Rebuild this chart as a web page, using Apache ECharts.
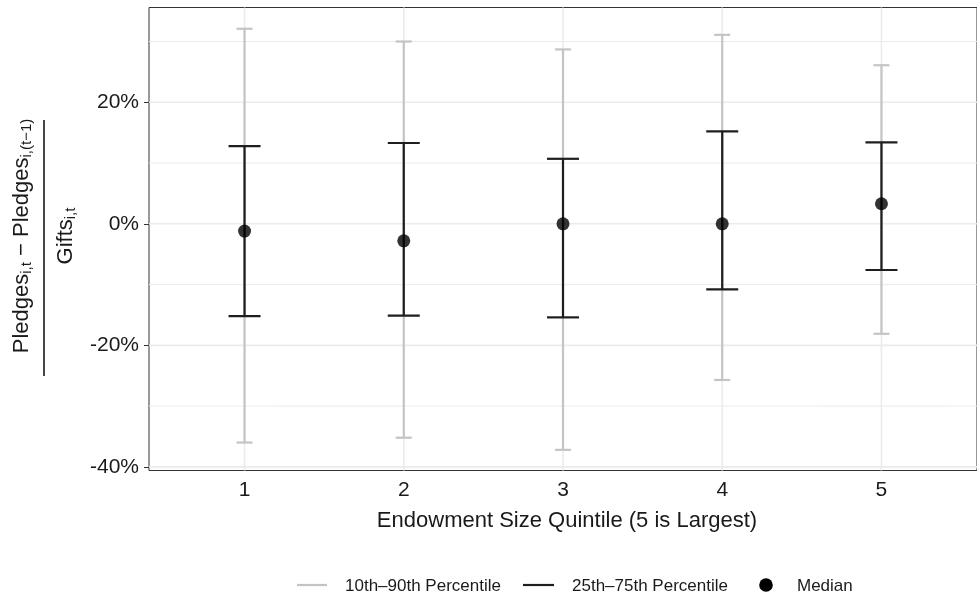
<!DOCTYPE html>
<html><head><meta charset="utf-8">
<script src="https://cdn.jsdelivr.net/npm/echarts@6/dist/echarts.min.js"></script>
<style>html,body{margin:0;padding:0;background:#fff}#c{width:977px;height:596px}</style>
</head><body><div id="c"></div>
<script>
const quintiles = [1, 2, 3, 4, 5];
const p10 = [-36.0, -35.2, -37.2, -25.7, -18.1];
const p90 = [32.1, 30.0, 28.7, 31.1, 26.1];
const p25 = [-15.2, -15.1, -15.4, -10.8, -7.6];
const p75 = [12.8, 13.3, 10.7, 15.2, 13.4];
const medians = [-1.2, -2.8, 0, 0, 3.3];
const yTicks = [-40, -20, 0, 20];
const yMinor = [-30, -10, 10, 30];
const xTitle = 'Endowment Size Quintile (5 is Largest)';
const legendNames = ['10th\u201390th Percentile', '25th\u201375th Percentile', 'Median'];

const FONT = '"Liberation Sans", Arial, sans-serif';
const GRAY = '#c4c4c4', BLACK = '#1e1e1e', TXT = '#1a1a1a';

function errRender(capHalf, color, width) {
  return function (params, api) {
    const x = api.value(0), lo = api.value(1), hi = api.value(2);
    const a = api.coord([x, lo]), b = api.coord([x, hi]);
    const st = { stroke: color, lineWidth: width };
    return { type: 'group', children: [
      { type: 'line', shape: { x1: a[0], y1: a[1], x2: b[0], y2: b[1] }, style: st },
      { type: 'line', shape: { x1: a[0] - capHalf, y1: a[1], x2: a[0] + capHalf, y2: a[1] }, style: st },
      { type: 'line', shape: { x1: b[0] - capHalf, y1: b[1], x2: b[0] + capHalf, y2: b[1] }, style: st }
    ]};
  };
}

function gridRender(params, api) {
  const kind = api.value(0), v = api.value(1);
  const cs = params.coordSys;
  if (kind === 0 || kind === 1) {
    const p = api.coord([1, v]);
    return { type: 'line', shape: { x1: cs.x, y1: p[1], x2: cs.x + cs.width, y2: p[1] },
      style: { stroke: '#ebebeb', lineWidth: kind === 0 ? 1.6 : 1 } };
  }
  const p = api.coord([v, 0]);
  return { type: 'line', shape: { x1: p[0], y1: cs.y, x2: p[0], y2: cs.y + cs.height },
    style: { stroke: '#ebebeb', lineWidth: 1.6 } };
}
const gridData = [].concat(
  yTicks.map(v => [0, v]), yMinor.map(v => [1, v]), quintiles.map(v => [2, v]));

const chart = echarts.init(document.getElementById('c'), null, { renderer: 'canvas' });

chart.setOption({
  animation: false,
  backgroundColor: '#fff',
  grid: { left: 149, top: 7.5, right: -9, bottom: 125.5, show: true, borderColor: '#333', borderWidth: 1, backgroundColor: 'transparent', containLabel: false },
  xAxis: {
    type: 'value', min: 0.4, max: 5.6, interval: 1,
    axisLine: { show: false },
    axisTick: { show: true, length: 5, lineStyle: { color: '#333' }, customValues: quintiles },
    axisLabel: { color: TXT, fontSize: 21, fontFamily: FONT, margin: 9, customValues: quintiles, formatter: v => String(v) },
    splitLine: { show: false }
  },
  yAxis: {
    type: 'value', min: -40.6, max: 35.6,
    axisLine: { show: false },
    axisTick: { show: true, length: 5, lineStyle: { color: '#333' }, customValues: yTicks },
    axisLabel: { color: TXT, fontSize: 21, fontFamily: FONT, margin: 10, customValues: yTicks, formatter: v => v + '%' },
    splitLine: { show: false }
  },
  series: [
    { type: 'custom', silent: true, z: 0, renderItem: gridRender, data: gridData, encode: { x: 1 } },
    { name: legendNames[0], type: 'custom', z: 2, renderItem: errRender(8, GRAY, 2.2),
      data: quintiles.map((q, i) => [q, p10[i], p90[i]]), encode: { x: 0, y: [1, 2] } },
    { name: legendNames[1], type: 'custom', z: 3, renderItem: errRender(16, BLACK, 2.2),
      data: quintiles.map((q, i) => [q, p25[i], p75[i]]), encode: { x: 0, y: [1, 2] } },
    { name: legendNames[2], type: 'scatter', z: 4, symbol: 'circle', symbolSize: 13,
      itemStyle: { color: '#000' }, data: quintiles.map((q, i) => [q, medians[i]]) }
  ],
  graphic: [
    { type: 'text', x: 567, y: 521, style: { text: xTitle, font: '22px ' + FONT, fill: TXT, align: 'center', verticalAlign: 'middle' } },
    { type: 'text', x: 22, y: 236, rotation: Math.PI / 2,
      style: { text: 'Pledges{s|i,t} \u2212 Pledges{s|i,(t\u22121)}', align: 'center', verticalAlign: 'middle',
        font: '22px ' + FONT, fill: TXT,
        rich: { s: { fontSize: 15, fontFamily: FONT, fill: TXT, verticalAlign: 'bottom', padding: [10, 0, 0, 0] } } } },
    { type: 'line', shape: { x1: 44, y1: 120, x2: 44, y2: 376 }, style: { stroke: TXT, lineWidth: 1.6 } },
    { type: 'text', x: 66, y: 236, rotation: Math.PI / 2,
      style: { text: 'Gifts{s|i,t}', align: 'center', verticalAlign: 'middle',
        font: '22px ' + FONT, fill: TXT,
        rich: { s: { fontSize: 15, fontFamily: FONT, fill: TXT, verticalAlign: 'bottom', padding: [10, 0, 0, 0] } } } },
    { type: 'line', shape: { x1: 297, y1: 585, x2: 327, y2: 585 }, style: { stroke: GRAY, lineWidth: 2.2 } },
    { type: 'text', x: 345, y: 586, style: { text: legendNames[0], font: '17px ' + FONT, fill: TXT, verticalAlign: 'middle' } },
    { type: 'line', shape: { x1: 523, y1: 585, x2: 554, y2: 585 }, style: { stroke: BLACK, lineWidth: 2.2 } },
    { type: 'text', x: 572, y: 586, style: { text: legendNames[1], font: '17px ' + FONT, fill: TXT, verticalAlign: 'middle' } },
    { type: 'circle', shape: { cx: 766, cy: 585, r: 6.8 }, style: { fill: '#000' } },
    { type: 'text', x: 797, y: 586, style: { text: legendNames[2], font: '17px ' + FONT, fill: TXT, verticalAlign: 'middle' } }
  ]
});
</script></body></html>
